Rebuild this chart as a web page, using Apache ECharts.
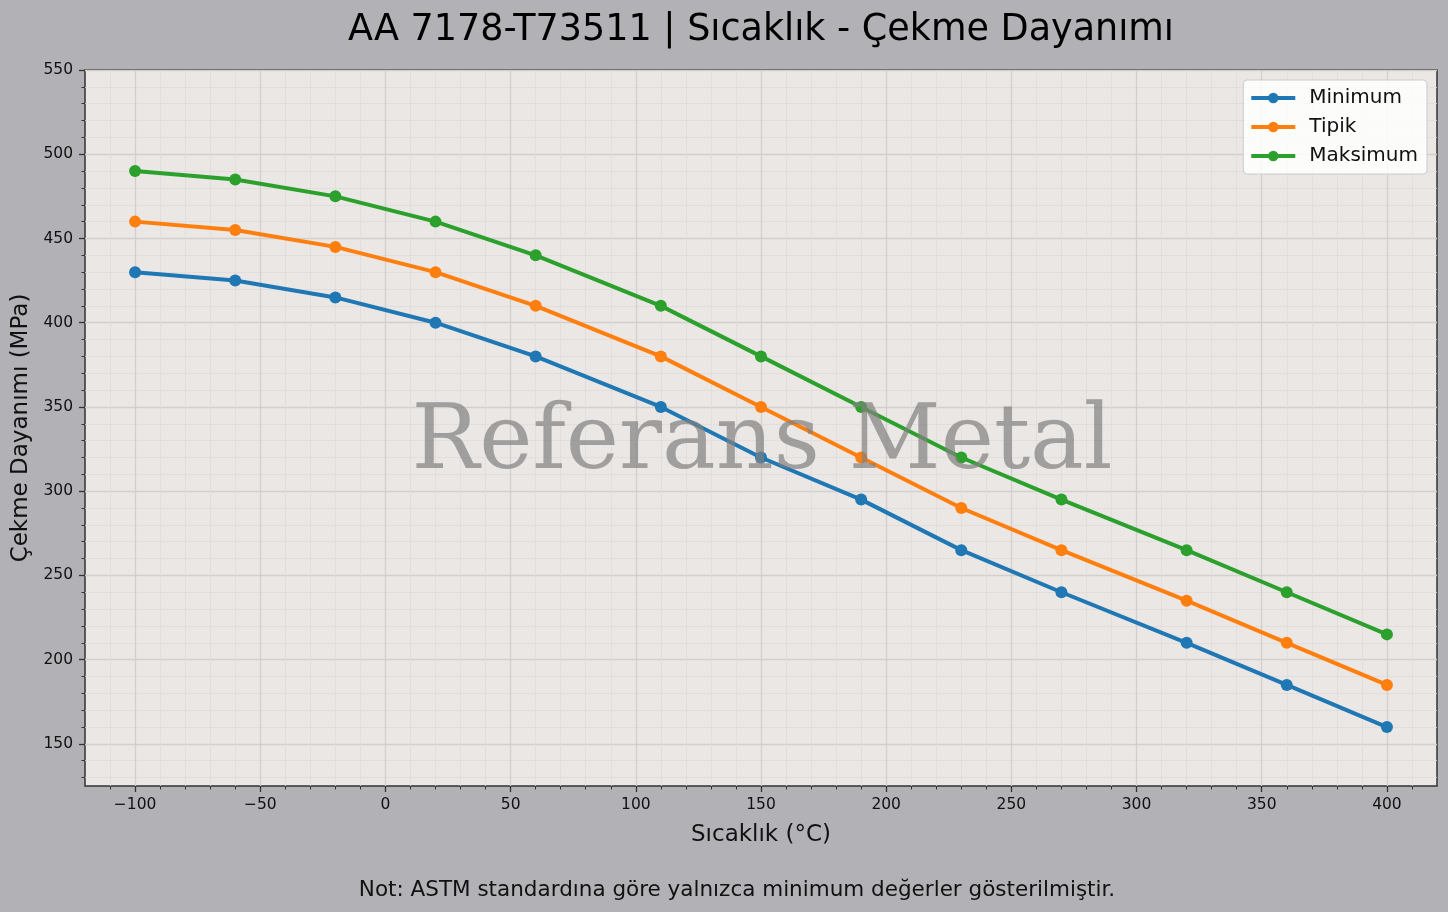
<!DOCTYPE html>
<html>
<head>
<meta charset="utf-8">
<title>AA 7178-T73511</title>
<script src="https://cdn.jsdelivr.net/npm/echarts@6/dist/echarts.min.js"></script>
<style>
  html, body { margin: 0; padding: 0; background: #b2b1b6; }
  #chart { width: 1448px; height: 912px; }
</style>
</head>
<body>
<div id="chart"></div>
<script>
// veriler
var temps = [-100, -60, -20, 20, 60, 110, 150, 190, 230, 270, 320, 360, 400];
var minVals = [430, 425, 415, 400, 380, 350, 320, 295, 265, 240, 210, 185, 160];
var typVals = [460, 455, 445, 430, 410, 380, 350, 320, 290, 265, 235, 210, 185];
var maxVals = [490, 485, 475, 460, 440, 410, 380, 350, 320, 295, 265, 240, 215];
var seriesNames = ['Minimum', 'Tipik', 'Maksimum'];
var xMajor = [-100, -50, 0, 50, 100, 150, 200, 250, 300, 350, 400];
var xMinor = [-110, -90, -80, -70, -60, -40, -30, -20, -10, 10, 20, 30, 40, 60, 70, 80, 90,
  110, 120, 130, 140, 160, 170, 180, 190, 210, 220, 230, 240, 260, 270, 280, 290,
  310, 320, 330, 340, 360, 370, 380, 390, 410];
var yMajor = [150, 200, 250, 300, 350, 400, 450, 500, 550];
var yMinor = [130, 140, 160, 170, 180, 190, 210, 220, 230, 240, 260, 270, 280, 290,
  310, 320, 330, 340, 360, 370, 380, 390, 410, 420, 430, 440, 460, 470, 480, 490,
  510, 520, 530, 540];

var chart = echarts.init(document.getElementById('chart'));

var font = 'DejaVu Sans';
function fmtX(v) { return v < 0 ? '\u2212' + Math.abs(v) : String(v); }

var option = {
  backgroundColor: '#b2b1b6',
  animation: false,
  textStyle: { fontFamily: font },
  grid: {
    left: 85, right: 11, top: 70, bottom: 126,
    outerBoundsMode: 'none',
    containLabel: false,
    show: true,
    backgroundColor: '#eae7e5',
    borderColor: '#333333',
    borderWidth: 1.5
  },
  legend: {
    data: seriesNames,
    orient: 'vertical',
    right: 21,
    top: 80,
    itemWidth: 44,
    itemHeight: 13,
    itemGap: 9,
    padding: [8, 9, 8, 6],
    backgroundColor: 'rgba(255,255,255,0.85)',
    borderColor: '#cccccc',
    borderWidth: 1,
    borderRadius: 4,
    lineStyle: { width: 4 },
    textStyle: { fontFamily: font, fontSize: 20, color: '#111', padding: [0, 0, 0, 9] }
  },
  xAxis: [
    {
      // küçük ızgara
      type: 'value', min: -120, max: 420, position: 'bottom',
      axisLine: { show: false, onZero: false },
      axisTick: { show: true, customValues: xMinor, length: 3.5, lineStyle: { color: '#333', width: 1 } },
      axisLabel: { show: false },
      splitLine: { show: true, lineStyle: { color: '#dfdcda', width: 0.8 } }
    },
    {
      type: 'value', min: -120, max: 420, position: 'bottom',
      name: 'Sıcaklık (°C)', nameLocation: 'middle', nameGap: 38,
      nameTextStyle: { fontFamily: font, fontSize: 23, color: '#111' },
      axisLine: { show: false, onZero: false },
      axisTick: { show: true, customValues: xMajor, length: 6, lineStyle: { color: '#333', width: 1.3 } },
      axisLabel: { customValues: xMajor, formatter: fmtX, margin: 11, fontSize: 15.5, color: '#111', fontFamily: font },
      splitLine: { show: true, lineStyle: { color: '#d2cfcd', width: 1.3 } }
    }
  ],
  yAxis: [
    {
      type: 'value', min: 125, max: 550, position: 'left',
      axisLine: { show: false, onZero: false },
      axisTick: { show: true, customValues: yMinor, length: 3.5, lineStyle: { color: '#333', width: 1 } },
      axisLabel: { show: false },
      splitLine: { show: true, lineStyle: { color: '#dfdcda', width: 0.8 } }
    },
    {
      type: 'value', min: 125, max: 550, position: 'left',
      name: 'Çekme Dayanımı (MPa)', nameLocation: 'middle', nameGap: 51,
      nameTextStyle: { fontFamily: font, fontSize: 23, color: '#111' },
      axisLine: { show: false, onZero: false },
      axisTick: { show: true, customValues: yMajor, length: 6, lineStyle: { color: '#333', width: 1.3 } },
      axisLabel: { customValues: yMajor, margin: 12, fontSize: 15.5, color: '#111', fontFamily: font },
      splitLine: { show: true, lineStyle: { color: '#d2cfcd', width: 1.3 } }
    }
  ],
  series: [
    { name: seriesNames[0], data: minVals, color: '#1f77b4' },
    { name: seriesNames[1], data: typVals, color: '#ff7f0e' },
    { name: seriesNames[2], data: maxVals, color: '#2ca02c' }
  ].map(function (s) {
    return {
      name: s.name,
      type: 'line',
      xAxisIndex: 1,
      yAxisIndex: 1,
      data: s.data.map(function (v, i) { return [temps[i], v]; }),
      symbol: 'circle',
      symbolSize: 12,
      color: s.color,
      itemStyle: { color: s.color },
      lineStyle: { color: s.color, width: 4 },
      z: 3
    };
  }),
  graphic: [
    {
      type: 'text', x: 761, y: 31, z: 100,
      style: {
        text: 'AA 7178-T73511 | Sıcaklık - Çekme Dayanımı',
        font: '36.5px "DejaVu Sans"', fill: '#000',
        align: 'center', verticalAlign: 'middle', textAlign: 'center', textVerticalAlign: 'middle'
      }
    },
    {
      type: 'text', x: 762, y: 445, z: 100, silent: true,
      style: {
        text: 'Referans Metal',
        font: '90px "DejaVu Serif"', fill: 'rgba(128,128,128,0.7)',
        align: 'center', verticalAlign: 'middle', textAlign: 'center', textVerticalAlign: 'middle'
      }
    },
    {
      type: 'text', x: 737, y: 890, z: 100,
      style: {
        text: 'Not: ASTM standardına göre yalnızca minimum değerler gösterilmiştir.',
        font: '21.5px "DejaVu Sans"', fill: '#111',
        align: 'center', verticalAlign: 'middle', textAlign: 'center', textVerticalAlign: 'middle'
      }
    }
  ]
};

chart.setOption(option);
</script>
</body>
</html>
